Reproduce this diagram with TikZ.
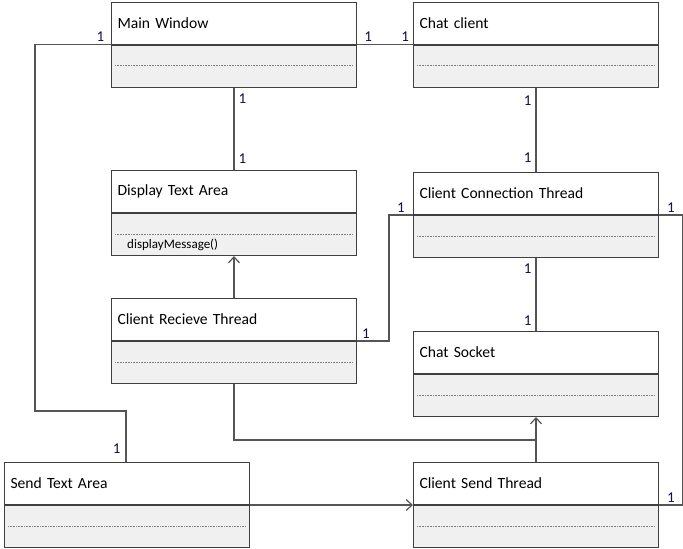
\documentclass[tikz,border=0pt]{standalone}
\usepackage{fontspec}
\setmainfont{Carlito}
\usetikzlibrary{positioning,arrows.meta}
\definecolor{boxline}{HTML}{3F3F3F}
\definecolor{boxfill}{HTML}{F0F0F0}
\definecolor{linkgray}{HTML}{555555}
\definecolor{multnavy}{HTML}{101048}
\tikzset{
  classhead/.style={draw=boxline, fill=white, line width=1pt, anchor=north west,
    minimum width=245pt, minimum height=42pt, text width=233pt, inner xsep=6pt,
    align=left, font=\fontsize{15.6}{18}\selectfont},
  classbody/.style={draw=boxline, fill=boxfill, line width=1pt, minimum width=245pt,
    minimum height=42pt, anchor=north},
  dotline/.style={gray, line width=0.9pt, dash pattern=on 0.9pt off 0.7pt},
  link/.style={linkgray, line width=1.2pt},
  openarrow/.style={-{Straight Barb[length=6pt,width=11pt]}},
  mult/.style={text=multnavy, font=\fontsize{15}{17}\selectfont, inner sep=2pt}
}
\begin{document}
\begin{tikzpicture}[x=1pt, y=-1pt]
    \useasboundingbox (0,0) rectangle (683,549);
    \foreach \n/\x/\y/\t in {mw/111/1.5/Main Window, cc/413/1.5/Chat client,
        dta/111/170/Display Text Area, cct/413/172/Client Connection Thread,
        crt/111/298/Client Recieve Thread, cs/413/331/Chat Socket,
        sta/4/462/Send Text Area, cst/413/462/Client Send Thread} {
        \node[classhead] (\n) at (\x,\y) {\t};
        \node[classbody, below=0pt of \n] (\n-b) {};
        \draw[dotline] ([xshift=4pt,yshift=-21pt]\n-b.north west) -- ([xshift=-4pt,yshift=-21pt]\n-b.north east);
    }
    \node[anchor=west, font=\fontsize{13}{15}\selectfont, inner sep=1pt] (dm) at ([xshift=15pt,yshift=11pt]dta-b.south west) {displayMessage()};

    \coordinate (sta-in) at ([xshift=122pt]sta.north west);
    \coordinate (join) at ([yshift=-23pt]cs-b.south);

    \draw[link] (mw.south east) -- node[mult, above, pos=0.2] {1} node[mult, above, pos=0.86] {1} (cc.south west);
    \draw[link] (mw.south west) -- node[mult, above, pos=0.14] {1} ++(-76,0) |- ([yshift=51pt]sta-in)
        -- node[mult, left, pos=0.73, xshift=-3pt] {1} (sta-in);
    \draw[link] (mw-b.south) -- node[mult, right, pos=0.13, xshift=2pt] {1} node[mult, right, pos=0.86, xshift=2pt] {1} (dta.north);
    \draw[link] (cc-b.south) -- node[mult, left, pos=0.16, xshift=-2pt] {1} node[mult, left, pos=0.83, xshift=-2pt] {1} (cct.north);
    \draw[link] (cct-b.south) -- node[mult, left, pos=0.14, xshift=-2pt] {1} node[mult, left, pos=0.86, xshift=-2pt] {1} (cs.north);
    \draw[link] (cct.south west) -- node[mult, above] {1} ++(-24,0) |- node[mult, above, pos=0.86] {1} (crt.south east);
    \draw[link] (cct.south east) -- node[mult, above] {1} ++(24,0) |- node[mult, above, pos=0.75] {1} (cst.south east);
    \draw[link, openarrow] (crt.north) -- (dta-b.south);
    \draw[link] (crt-b.south) |- (join);
    \draw[link, openarrow] (cst.north) -- (join) -- (cs-b.south);
    \draw[link, openarrow] (sta.south east) -- (cst.south west);
\end{tikzpicture}
\end{document}
